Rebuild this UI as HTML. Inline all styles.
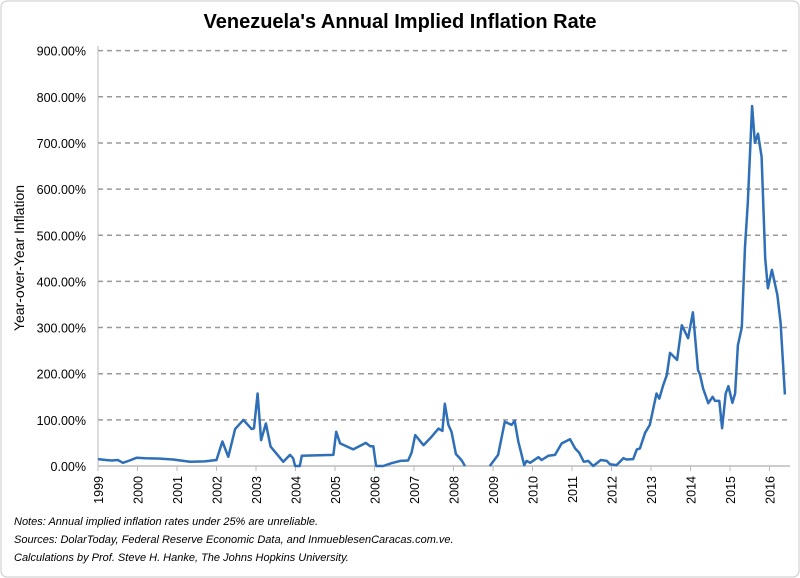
<!DOCTYPE html>
<html><head><meta charset="utf-8"><style>
body{margin:0;background:#fff;}
svg{display:block;font-family:"Liberation Sans",sans-serif;}
</style></head><body>
<svg id="chart" width="800" height="578">
<rect x="1" y="1" width="798" height="576" rx="6" fill="#fff" stroke="#c8c8c8"/>
<text x="400" y="28" text-anchor="middle" font-size="20" font-weight="bold" fill="#000">Venezuela's Annual Implied Inflation Rate</text>
<text transform="translate(24,258) rotate(-90)" text-anchor="middle" font-size="14" fill="#000">Year-over-Year Inflation</text>
<g id="grid"></g><g id="yticks"></g><g id="xticks"></g>
<path id="line" fill="none" stroke="#2e6fb8" stroke-width="2.5" stroke-linejoin="round"/>
<g font-size="11" font-style="italic" fill="#000">
<text x="14" y="525">Notes: Annual implied inflation rates under 25% are unreliable.</text>
<text x="14" y="543">Sources: DolarToday, Federal Reserve Economic Data, and InmueblesenCaracas.com.ve.</text>
<text x="14" y="561">Calculations by Prof. Steve H. Hanke, The Johns Hopkins University.</text>
</g>
</svg>
<script>
const yearTicks=[1999,2000,2001,2002,2003,2004,2005,2006,2007,2008,2009,2010,2011,2012,2013,2014,2015,2016];
const yTickValues=[0,100,200,300,400,500,600,700,800,900];
const dates=[1999.0,1999.2,1999.35,1999.5,1999.63,1999.8,1999.98,2000.2,2000.57,2000.9,2001.33,2001.7,2002.0,2002.15,2002.3,2002.47,2002.68,2002.89,2002.95,2003.04,2003.13,2003.25,2003.37,2003.69,2003.86,2003.94,2003.99,2004.11,2004.16,2004.96,2005.03,2005.13,2005.46,2005.78,2005.89,2005.97,2006.04,2006.22,2006.43,2006.65,2006.85,2006.94,2007.03,2007.24,2007.41,2007.62,2007.72,2007.78,2007.87,2007.95,2008.06,2008.2,2008.29,2008.6,2008.92,2009.13,2009.3,2009.47,2009.55,2009.64,2009.79,2009.85,2009.94,2010.15,2010.23,2010.4,2010.57,2010.74,2010.95,2011.08,2011.18,2011.3,2011.41,2011.54,2011.73,2011.88,2011.96,2012.13,2012.3,2012.38,2012.55,2012.64,2012.72,2012.85,2012.97,2013.14,2013.21,2013.31,2013.4,2013.48,2013.66,2013.78,2013.94,2014.06,2014.19,2014.24,2014.32,2014.45,2014.56,2014.62,2014.73,2014.8,2014.89,2014.96,2015.06,2015.13,2015.2,2015.3,2015.38,2015.45,2015.56,2015.63,2015.71,2015.8,2015.89,2015.96,2016.06,2016.2,2016.28,2016.39];
const values=[15,13,12,13,7,12,18,17,16,14,9,10,13,53,20,80,100,80,82,157,56,92,42,9,24,17,0,0,22,24,74,49,36,50,43,43,0,0,6,11,12,29,67,45,60,81,76,135,89,74,26,13,0,null,0,24,96,89,98,53,2,11,7,19,13,22,24,49,58,38,29,9,11,0,13,11,4,2,17,14,15,36,38,72,89,157,146,175,197,245,230,305,277,333,208,198,168,136,150,141,141,82,157,173,137,157,262,300,475,570,780,700,720,670,450,385,425,370,310,155];
const X0=98,PX=39.5,Y0=466,PY=0.4615,XR=790;
const xs=d=>X0+(d-1999)*PX, ys=v=>Y0-v*PY;
const NS="http://www.w3.org/2000/svg";
const grid=document.getElementById('grid'),yt=document.getElementById('yticks'),xt=document.getElementById('xticks');
yTickValues.forEach(v=>{
 const l=document.createElementNS(NS,'line');
 l.setAttribute('x1',X0);l.setAttribute('x2',XR);l.setAttribute('y1',ys(v));l.setAttribute('y2',ys(v));
 if(v===0){l.setAttribute('stroke','#bbb');l.setAttribute('stroke-width','1.5');}
 else{l.setAttribute('stroke','#999');l.setAttribute('stroke-width','1.5');l.setAttribute('stroke-dasharray','5,4');}
 
 
 grid.appendChild(l);
 const t=document.createElementNS(NS,'text');
 t.setAttribute('x',86);t.setAttribute('y',ys(v)+5);t.setAttribute('text-anchor','end');t.setAttribute('font-size','12.5');
 t.textContent=v.toFixed(2)+'%';
 
 
 yt.appendChild(t);
});
const ax=document.createElementNS(NS,'line');
ax.setAttribute('x1',X0);ax.setAttribute('x2',X0);ax.setAttribute('y1',46);ax.setAttribute('y2',Y0);ax.setAttribute('stroke','#bbb');


grid.appendChild(ax);
yearTicks.forEach(y=>{
 const x=xs(y);
 const tk=document.createElementNS(NS,'line');
 tk.setAttribute('x1',x);tk.setAttribute('x2',x);tk.setAttribute('y1',Y0);tk.setAttribute('y2',Y0+5);tk.setAttribute('stroke','#bbb');
 
 
 xt.appendChild(tk);
 const t=document.createElementNS(NS,'text');
 t.setAttribute('transform','translate('+(x+5)+','+(Y0+10)+') rotate(-90)');
 t.setAttribute('text-anchor','end');t.setAttribute('font-size','12.5');
 t.textContent=y;
 
 
 xt.appendChild(t);
});
let d='',pen=false;
dates.forEach((dt,i)=>{const v=values[i];if(v===null){pen=false;return;}
 d+=(pen?'L':'M')+xs(dt).toFixed(1)+','+ys(v).toFixed(1);pen=true;});
document.getElementById('line').setAttribute('d',d);
</script>
</body></html>
